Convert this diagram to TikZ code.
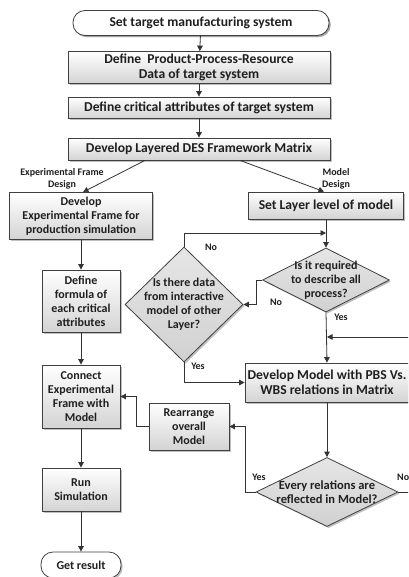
\documentclass[tikz,border=0pt]{standalone}
\usepackage{fontspec}
\setmainfont{Carlito}
\usetikzlibrary{arrows.meta,shapes.geometric,shadows}

\tikzset{
  base/.style={draw=black!75, line width=0.8pt, font=\bfseries\fontsize{12}{14}\selectfont,
    text=black!88, align=center, inner sep=1pt,
    top color=white, bottom color=black!17,
    drop shadow={shadow xshift=1.6pt, shadow yshift=-1.6pt, fill=black!45, opacity=0.55}},
  procbox/.style={base, rectangle},
  bigbox/.style={base, rectangle, font=\bfseries\fontsize{13.6}{15}\selectfont},
  termbox/.style={base, rectangle, rounded corners=12pt, top color=white, bottom color=white},
  decbox/.style={draw=black!75, line width=0.8pt, diamond, inner sep=0pt,
    top color=black!10, bottom color=black!18,
    drop shadow={shadow xshift=1.6pt, shadow yshift=-1.6pt, fill=black!45, opacity=0.55}},
  dectext/.style={font=\bfseries\fontsize{12}{14}\selectfont, text=black!88, align=center, inner sep=0pt},
  tag/.style={font=\bfseries\fontsize{10}{12}\selectfont, text=black!88, align=center, inner sep=0pt},
  arr/.style={draw=black!80, line width=0.8pt, -{Triangle[length=5.5pt,width=5.5pt]}},
  ln/.style={draw=black!80, line width=0.8pt}
}

\begin{document}
\begin{tikzpicture}[x=1pt, y=-1pt]
\clip (0,0) rectangle (408,577);
\fill[white] (0,0) rectangle (408,577);

% main spine
\node[termbox, bigbox, top color=white, bottom color=white, rounded corners=12pt,
      minimum width=256pt, minimum height=25pt] (start) at (201,23) {Set target manufacturing system};
\node[bigbox, minimum width=262pt, minimum height=32pt] (ppr) at (199,67.5) {Define\ \ Product-Process-Resource\\Data of target system};
\node[bigbox, minimum width=262pt, minimum height=21pt] (crit) at (199,107.5) {Define critical attributes of target system};
\node[bigbox, minimum width=262pt, minimum height=22pt] (des) at (199,149) {Develop Layered DES Framework Matrix};

% experimental frame column
\node[procbox, minimum width=143pt, minimum height=47pt] (ef) at (81,216) {Develop\\Experimental Frame for\\production simulation};
\node[procbox, minimum width=78pt, minimum height=62pt] (formula) at (81,301) {Define\\formula of\\each critical\\attributes};
\node[procbox, minimum width=78pt, minimum height=63pt] (conn) at (81,396.5) {Connect\\Experimental\\Frame with\\Model};
\node[procbox, minimum width=78pt, minimum height=43pt] (run) at (81,489.5) {Run\\Simulation};
\node[termbox, minimum width=80pt, minimum height=26pt] (get) at (81,565) {Get result};

% model design column
\node[bigbox, minimum width=155pt, minimum height=27pt] (layer) at (326,205.5) {Set Layer level of model};
\node[decbox, minimum width=127pt, minimum height=64pt] (d1) at (326,280) {};
\node[dectext] at (d1) {Is it required\\to describe all\\process?};
\node[decbox, minimum width=118pt, minimum height=115pt] (d2) at (184,304.5) {};
\node[dectext] at (d2) {Is there data\\from interactive\\model of other\\Layer?};
\node[bigbox, minimum width=164pt, minimum height=39pt] (dm) at (327,382.5) {Develop Model with PBS Vs.\\WBS relations in Matrix};
\node[decbox, minimum width=142pt, minimum height=69pt] (d3) at (327,492) {};
\node[dectext, font=\bfseries\fontsize{12.5}{14}\selectfont] at (d3) {Every relations are\\reflected in Model?};
\node[procbox, minimum width=80pt, minimum height=47pt] (re) at (189,426.5) {Rearrange\\overall\\Model};

% junction points
\coordinate (j1) at (326,233);
\coordinate (j2) at (327,337);
\coordinate (rin) at (420,337);

% connectors
\draw[arr] (start) -- (ppr);
\draw[arr] (ppr) -- (crit);
\draw[arr] (crit) -- (des);
\draw[arr] ([xshift=-54pt]des.south) -- ([xshift=2pt]ef.north);
\draw[arr] ([xshift=41pt]des.south) -- ([xshift=-2pt]layer.north);
\draw[arr] (ef) -- (formula);
\draw[arr] (formula) -- (conn);
\draw[arr] (conn) -- (run);
\draw[arr] (run) -- (get);
\draw[arr] (layer) -- (d1);
\draw[arr] (d2.north) |- (j1);
\draw[arr] (d1.west) -- ++(-6,0) |- (d2.east);
\draw[arr] (d1.south) -- (dm.north);
\draw[arr] (rin) -- (j2);
\draw[arr] (d2.south) |- (dm.west);
\draw[arr] (dm.south) -- (d3.north);
\draw[arr] (d3.west) -- ++(-10,0) |- (re.east);
\draw[arr] (re.west) -- ++(-12,0) |- (conn.east);
\draw[ln] (d3.east) -- ++(22,0) |- (rin);

% branch labels
\node[tag] (lef) at (62,179) {Experimental Frame\\Design};
\node[tag] (lmd) at (336,179) {Model\\Design};
\node[tag] (no1) at (211,247) {No};
\node[tag] (no2) at (276,302) {No};
\node[tag] (yes1) at (341,317) {Yes};
\node[tag] (yes2) at (198,366) {Yes};
\node[tag] (yes3) at (259,477) {Yes};
\node[tag, anchor=west] (no3) at (397,477) {No};
\end{tikzpicture}
\end{document}
